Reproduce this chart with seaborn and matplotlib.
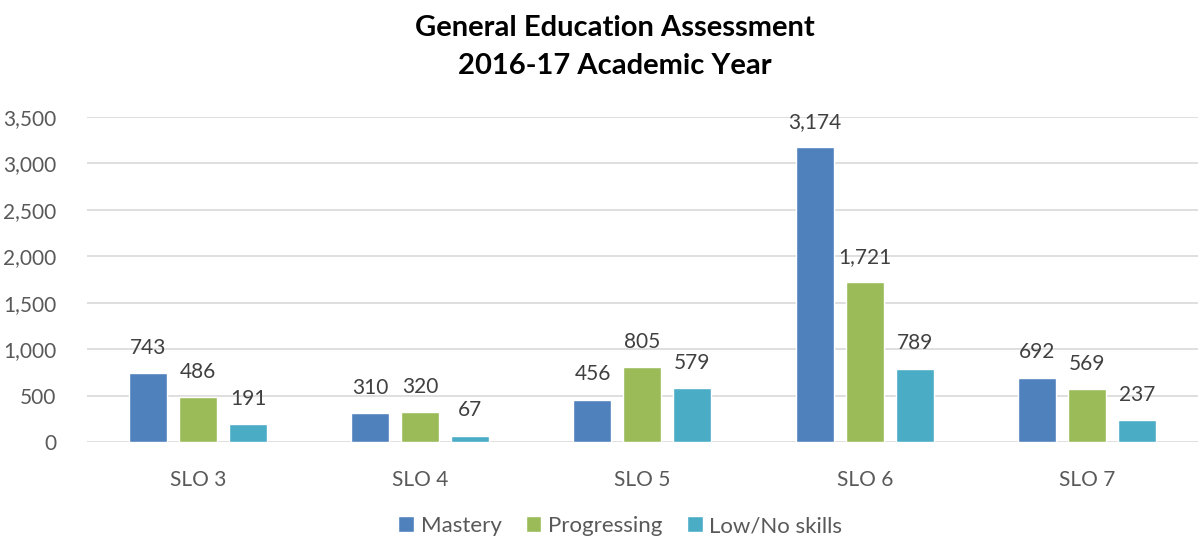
import matplotlib
matplotlib.use("Agg")
import matplotlib.pyplot as plt
import seaborn as sns
import pandas as pd

categories = ["SLO 3", "SLO 4", "SLO 5", "SLO 6", "SLO 7"]
mastery = [743, 310, 456, 3174, 692]
progressing = [486, 320, 805, 1721, 569]
low_no_skills = [191, 67, 579, 789, 237]
series_names = ["Mastery", "Progressing", "Low/No skills"]
colors = ["#4F81BD", "#9BBB59", "#4BACC6"]

df = pd.DataFrame({
    "SLO": categories * 3,
    "Level": [series_names[0]] * 5 + [series_names[1]] * 5 + [series_names[2]] * 5,
    "Count": mastery + progressing + low_no_skills,
})

sns.set_theme(style="white")
plt.rcParams["font.family"] = ["Lato", "DejaVu Sans"]
text_color = "#595959"

fig = plt.figure(figsize=(11.98, 5.37), dpi=100)
ax = fig.add_axes([0.0726, 0.177, 0.9274, 0.605])

sns.barplot(data=df, x="SLO", y="Count", hue="Level", palette=colors,
            width=0.675, gap=0.24, ax=ax, saturation=1, legend=True)

for cont in ax.containers:
    ax.bar_label(cont, labels=[f"{v:,.0f}" for v in cont.datavalues],
                 padding=11, fontsize=15, color="#404040")

ax.set_ylim(0, 3500)
ax.set_xlim(-0.5, 4.5)
ax.set_yticks(range(0, 3501, 500))
ax.set_yticklabels([f"{v:,}" for v in range(0, 3501, 500)])
ax.yaxis.grid(True, color="#D9D9D9", linewidth=1.2)
ax.set_axisbelow(True)
for s in ax.spines.values():
    s.set_visible(False)
ax.tick_params(axis="both", length=0, labelsize=15, colors=text_color)
ax.tick_params(axis="x", pad=20)
ax.tick_params(axis="y", pad=22)
ax.set_xlabel("")
ax.set_ylabel("")

ax.legend(loc="upper center", bbox_to_anchor=(0.48, -0.228), ncol=3,
          frameon=False, fontsize=16, handlelength=0.7, handleheight=0.7,
          columnspacing=1.1, handletextpad=0.3, labelcolor=text_color,
          borderaxespad=0, borderpad=0)

fig.text(0.513, 0.972, "General Education Assessment\n2016-17 Academic Year",
         ha="center", va="top", fontsize=21, fontweight="bold",
         color="black", linespacing=1.55)

fig.savefig("out.png", dpi=100)
